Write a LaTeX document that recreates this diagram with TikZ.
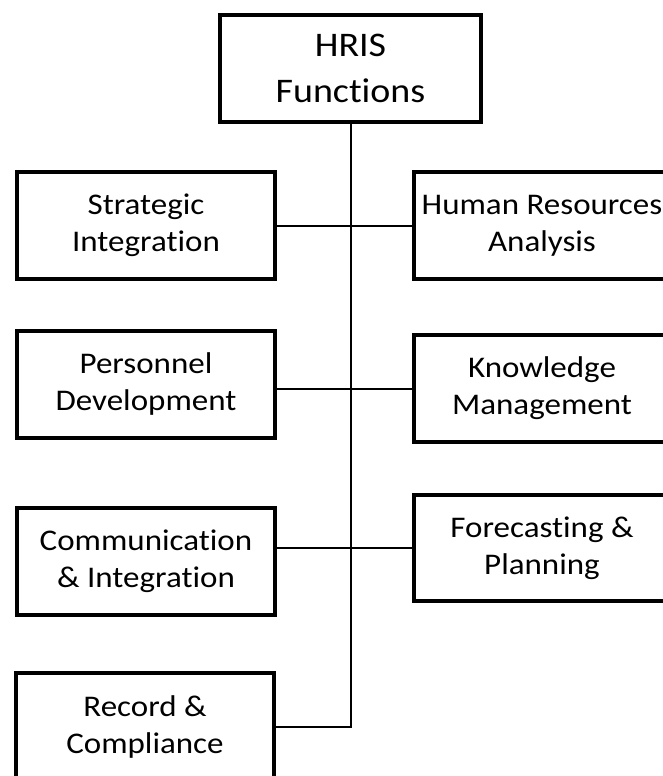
\documentclass[tikz,border=0pt]{standalone}
\usepackage{fontspec}
\setmainfont{Carlito}[FakeStretch=1.1, Ligatures=NoCommon]

\begin{document}
\begin{tikzpicture}[x=1pt, y=-1pt,
        box/.style={rectangle, draw, line width=4pt, align=center, inner sep=0pt,
            minimum width=258pt, minimum height=107pt, font=\fontsize{30}{37}\selectfont},
        link/.style={line width=2pt}]
        \useasboundingbox (0,0) rectangle (663,776);

        % Nodes
        \node[box, minimum width=261pt, font=\fontsize{34.5}{46}\selectfont] (hris) at (350.5, 68.5) {HRIS\\Functions};
        \node[box] (strat) at (146, 225.5) {Strategic\\Integration};
        \node[box] (pers) at (146, 384) {Personnel\\Development};
        \node[box] (comm) at (146, 561.5) {Communication\\\& Integration};
        \node[box] (rec) at (145, 726.5) {Record \&\\Compliance};
        \node[box, minimum width=256pt] (hra) at (542, 225.5) {Human Resources\\Analysis};
        \node[box, minimum width=256pt] (know) at (542, 388.5) {Knowledge\\Management};
        \node[box, minimum width=256pt, minimum height=106pt] (fore) at (542, 548) {Forecasting \&\\Planning};

        % Lines
        \draw[link] (hris.south) |- (rec.east);
        \draw[link] (strat.east |- hra.west) -- (hra.west);
        \draw[link] (pers.east |- know.west) -- (know.west);
        \draw[link] (comm.east |- fore.west) -- (fore.west);
    \end{tikzpicture}
\end{document}
